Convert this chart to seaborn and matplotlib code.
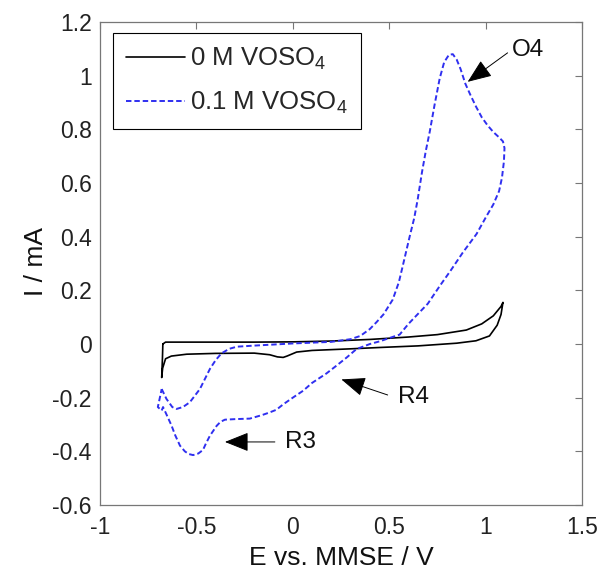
import numpy as np
import pandas as pd
import matplotlib
matplotlib.use("Agg")
import matplotlib.pyplot as plt
import seaborn as sns

# ---- data ----
E_black = [-0.674, -0.66, -0.60, -0.40, -0.20, 0.00, 0.20, 0.40, 0.60, 0.75, 0.90, 0.98,
           1.04, 1.08, 1.09, 1.08, 1.06, 1.02, 0.95, 0.85, 0.65, 0.45, 0.30, 0.10, 0.02,
           -0.03, -0.05, -0.08, -0.12, -0.20, -0.40, -0.55, -0.63, -0.66, -0.675, -0.68,
           -0.676, -0.674]
I_black = [0.000, 0.007, 0.007, 0.007, 0.007, 0.008, 0.011, 0.017, 0.026, 0.035, 0.052, 0.075,
           0.105, 0.140, 0.155, 0.110, 0.070, 0.030, 0.012, 0.003, -0.007, -0.013, -0.018, -0.024,
           -0.030, -0.045, -0.050, -0.048, -0.040, -0.034, -0.035, -0.038, -0.045, -0.055, -0.090,
           -0.125, -0.050, 0.000]

E_blue = [-0.68, -0.655, -0.625, -0.603, -0.57, -0.534, -0.482, -0.43, -0.40, -0.37, -0.33,
          -0.29, -0.20, -0.10, 0.00, 0.10, 0.20, 0.30, 0.35, 0.40, 0.435, 0.47, 0.518, 0.55,
          0.57, 0.606, 0.63, 0.648, 0.67, 0.69, 0.71, 0.735, 0.762, 0.785, 0.81, 0.83, 0.85,
          0.87, 0.895, 0.92, 0.95, 0.98, 1.01, 1.04, 1.07, 1.09, 1.098, 1.095, 1.085, 1.07,
          1.04, 1.005, 0.953, 0.881, 0.82, 0.762, 0.70, 0.641, 0.60, 0.554, 0.50, 0.451, 0.40,
          0.33, 0.28, 0.226, 0.174, 0.10, 0.054, 0.00, -0.05, -0.085, -0.12, -0.16, -0.223,
          -0.30, -0.352, -0.375, -0.395, -0.43, -0.45, -0.466, -0.49, -0.517, -0.54, -0.56,
          -0.585, -0.61, -0.629, -0.66, -0.673, -0.68, -0.70, -0.68]
I_blue = [-0.168, -0.205, -0.235, -0.242, -0.235, -0.217, -0.168, -0.093, -0.060, -0.035,
          -0.018, -0.010, -0.006, -0.002, 0.002, 0.005, 0.008, 0.018, 0.030, 0.056, 0.082,
          0.110, 0.165, 0.230, 0.290, 0.400, 0.470, 0.540, 0.640, 0.720, 0.790, 0.890, 0.990,
          1.050, 1.078, 1.080, 1.060, 1.025, 0.970, 0.930, 0.885, 0.845, 0.815, 0.790, 0.770,
          0.755, 0.730, 0.680, 0.620, 0.570, 0.520, 0.477, 0.410, 0.340, 0.275, 0.216, 0.150,
          0.106, 0.075, 0.035, 0.022, 0.010, 0.000, -0.019, -0.050, -0.081, -0.110, -0.145,
          -0.174, -0.200, -0.225, -0.245, -0.255, -0.265, -0.278, -0.280, -0.282, -0.290,
          -0.305, -0.342, -0.370, -0.395, -0.408, -0.414, -0.410, -0.400, -0.379, -0.340,
          -0.304, -0.255, -0.235, -0.248, -0.235, -0.168]

series_labels = ["0 M VOSO$_4$", "0.1 M VOSO$_4$"]
xticks = [-1, -0.5, 0, 0.5, 1, 1.5]
xtick_labels = ["-1", "-0.5", "0", "0.5", "1", "1.5"]
yticks = [-0.6, -0.4, -0.2, 0, 0.2, 0.4, 0.6, 0.8, 1.0, 1.2]
ytick_labels = ["-0.6", "-0.4", "-0.2", "0", "0.2", "0.4", "0.6", "0.8", "1", "1.2"]

# ---- style ----
sns.set_theme(style="white")
plt.rcParams["font.family"] = ["Liberation Sans", "DejaVu Sans"]
plt.rcParams["mathtext.default"] = "regular"

fig = plt.figure(figsize=(6.02, 5.72), dpi=100)
ax = fig.add_axes([100 / 602, 1 - 505 / 572, 482 / 602, 483 / 572])

df_b = pd.DataFrame({"E": E_black, "I": I_black})
df_v = pd.DataFrame({"E": E_blue, "I": I_blue})

sns.lineplot(data=df_b, x="E", y="I", sort=False, estimator=None, ax=ax,
             color="black", linewidth=1.2, label=series_labels[0])
sns.lineplot(data=df_v, x="E", y="I", sort=False, estimator=None, ax=ax,
             color="#2f2ff0", linewidth=1.4, label=series_labels[1])
ax.lines[1].set_dashes((2.8, 1.5))

ax.set_xlim(-1, 1.5)
ax.set_ylim(-0.6, 1.2)
ax.set_xticks(xticks)
ax.set_xticklabels(xtick_labels)
ax.set_yticks(yticks)
ax.set_yticklabels(ytick_labels)
ax.tick_params(direction="in", length=5, width=0.8, top=True, right=True,
               labelsize=16.5, colors="#222222")
ax.tick_params(axis="x", pad=8)
ax.tick_params(axis="y", pad=6)
ax.tick_params(axis="both", color="#777777")
for s in ax.spines.values():
    s.set_color("#777777")
    s.set_linewidth(0.9)

ax.set_xlabel("E vs. MMSE / V", fontsize=19, color="#111111")
ax.set_ylabel("I / mA", fontsize=19, color="#111111")
ax.xaxis.set_label_coords(0.5, -0.085)
ax.yaxis.set_label_coords(-0.108, 0.505)

leg = ax.legend(loc="upper left", bbox_to_anchor=(0.027, 0.977), borderaxespad=0,
                fontsize=18.5, frameon=True, fancybox=False, framealpha=1,
                handlelength=2.3, handletextpad=0.2, labelspacing=0.7,
                borderpad=0.5)
leg.get_frame().set_edgecolor("black")
leg.get_frame().set_linewidth(0.8)

arrow_kw = dict(arrowstyle="-|>,head_length=1.5,head_width=0.6", color="black",
                lw=0.7, shrinkA=0, shrinkB=0, mutation_scale=10)
ax.annotate("", xy=(0.907, 0.977), xytext=(1.114, 1.085), arrowprops=arrow_kw)
ax.annotate("", xy=(0.252, -0.132), xytext=(0.492, -0.190), arrowprops=arrow_kw)
ax.annotate("", xy=(-0.352, -0.365), xytext=(-0.093, -0.365), arrowprops=arrow_kw)
ax.text(1.135, 1.096, "O4", fontsize=17.5, va="center", ha="left", color="#111111")
ax.text(0.544, -0.198, "R4", fontsize=17.5, va="center", ha="left", color="#111111")
ax.text(-0.041, -0.365, "R3", fontsize=17.5, va="center", ha="left", color="#111111")

fig.savefig("out.png", dpi=100, facecolor="white")
